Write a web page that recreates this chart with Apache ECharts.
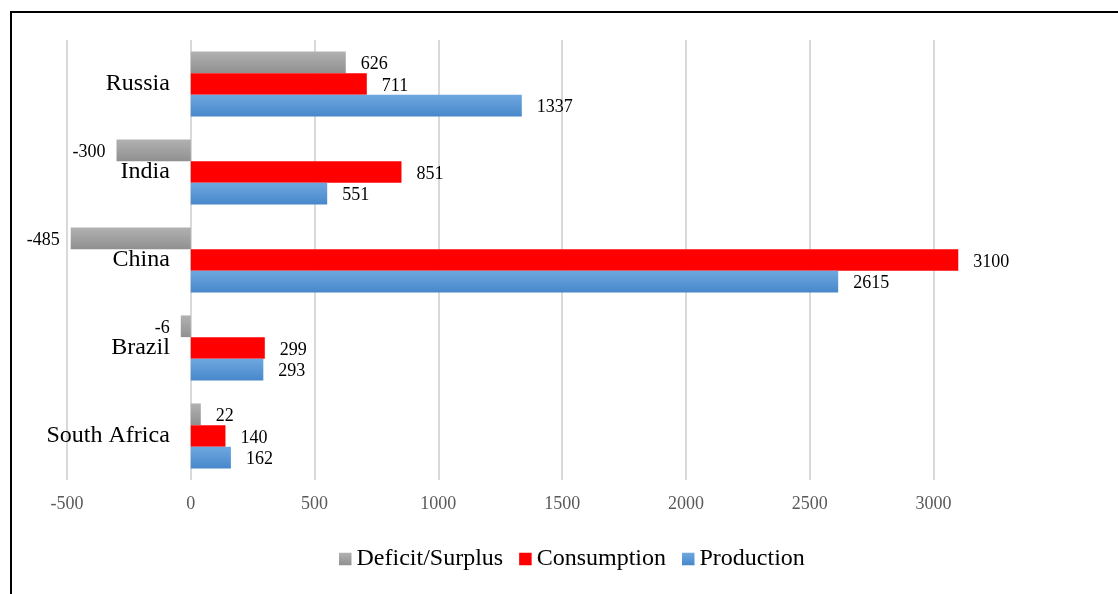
<!DOCTYPE html>
<html>
<head>
<meta charset="utf-8">
<script src="https://cdn.jsdelivr.net/npm/echarts@6/dist/echarts.min.js"></script>
<style>
  html, body { margin: 0; padding: 0; background: #fff; }
  #chart { width: 1118px; height: 594px; }
</style>
</head>
<body>
<div id="chart"></div>
<script>
// data, bottom category first
const countries = ['South Africa', 'Brazil', 'China', 'India', 'Russia']
const deficitSurplus = [22, -6, -485, -300, 626]
const consumption = [140, 299, 3100, 851, 711]
const production = [162, 293, 2615, 551, 1337]
const seriesNames = ['Deficit/Surplus', 'Consumption', 'Production']

const FONT = "'Liberation Serif', 'Times New Roman', serif"

function vGrad(top, bottom) {
    return new echarts.graphic.LinearGradient(0, 0, 0, 1, [
        { offset: 0, color: top },
        { offset: 1, color: bottom }
    ])
}

// negative bars get their label on the left
function withLabels(values) {
    return values.map(v => ({
        value: v,
        label: v < 0 ? { position: 'left', distance: 11 } : { position: 'right' }
    }))
}

const barLabel = {
    show: true,
    distance: 15,
    offset: [0, 2],
    color: '#000',
    fontFamily: FONT,
    fontSize: 18
}

const chart = echarts.init(document.getElementById('chart'))

chart.setOption({
    animation: false,
    backgroundColor: '#fff',
    textStyle: { fontFamily: FONT },
    graphic: [{
        type: 'rect',
        shape: { x: 11, y: 12, width: 1200, height: 700 },
        style: { fill: 'none', stroke: '#000', lineWidth: 2 },
        silent: true
    }],
    grid: {
        left: 67,
        right: 184.5,
        top: 40,
        bottom: 114,
        containLabel: false,
        outerBoundsMode: 'none'
    },
    legend: {
        left: 339,
        top: 547,
        padding: 0,
        itemWidth: 12.5,
        itemHeight: 12.5,
        itemGap: 16,
        textStyle: { fontFamily: FONT, fontSize: 24, color: '#000' },
        data: seriesNames.map(n => ({ name: n, icon: 'rect' }))
    },
    xAxis: {
        type: 'value',
        min: -500,
        max: 3000,
        interval: 500,
        axisLine: { show: false },
        axisTick: { show: false },
        axisLabel: {
            color: '#595959',
            fontFamily: FONT,
            fontSize: 18,
            margin: 15,
            formatter: v => String(v)
        },
        splitLine: { lineStyle: { color: '#d9d9d9', width: 2 } }
    },
    yAxis: {
        type: 'category',
        data: countries,
        // shift the axis from the grid edge (-500) to x = 0
        offset: -123.8,
        axisLine: { show: false },
        axisTick: { show: false },
        axisLabel: {
            color: '#000',
            fontFamily: FONT,
            fontSize: 24,
            margin: 21,
            padding: [4, 0, 0, 0]
        }
    },
    series: [
        {
            name: seriesNames[0],
            type: 'bar',
            data: withLabels(deficitSurplus),
            barGap: '0%',
            barCategoryGap: '26%',
            barMinHeight: 10,
            clip: false,
            itemStyle: { color: vGrad('#b1b1b1', '#909090') },
            label: barLabel
        },
        {
            name: seriesNames[1],
            type: 'bar',
            data: withLabels(consumption),
            barGap: '0%',
            barCategoryGap: '26%',
            clip: false,
            itemStyle: { color: '#ff0000' },
            label: barLabel
        },
        {
            name: seriesNames[2],
            type: 'bar',
            data: withLabels(production),
            barGap: '0%',
            barCategoryGap: '26%',
            clip: false,
            itemStyle: { color: vGrad('#6fa8e0', '#4787ca') },
            label: barLabel
        }
    ]
})
</script>
</body>
</html>
